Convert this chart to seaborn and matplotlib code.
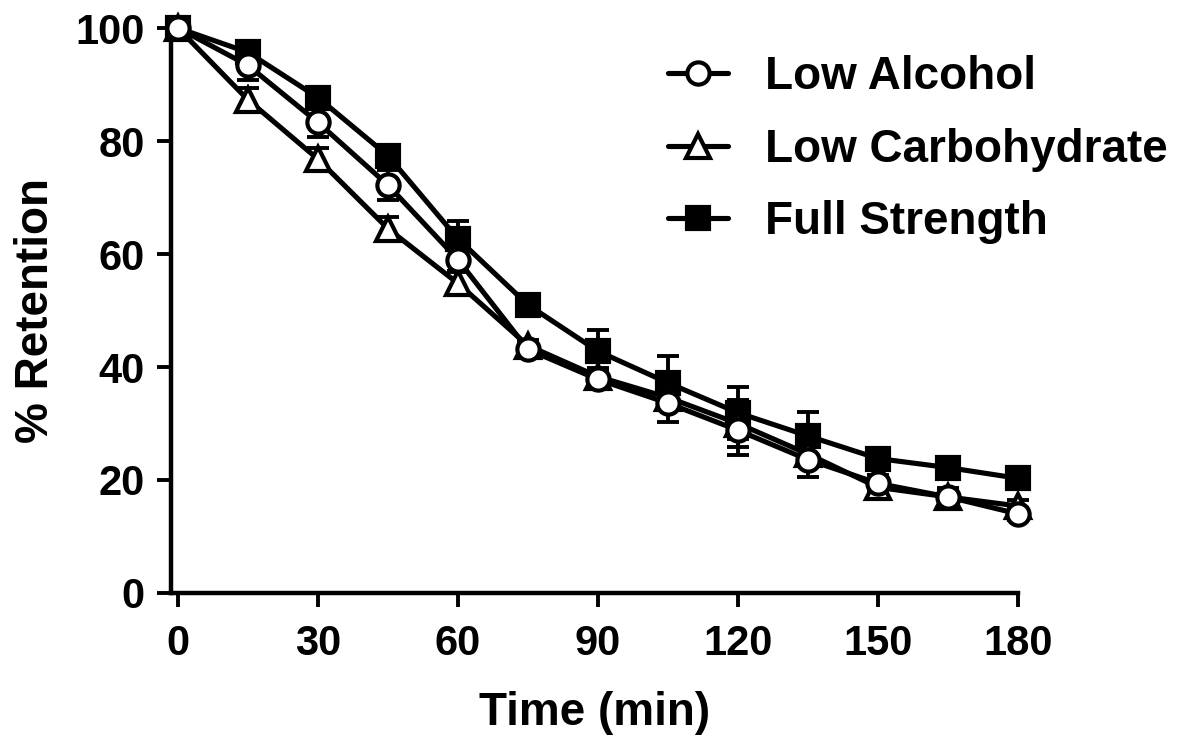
import matplotlib
matplotlib.use("Agg")
import matplotlib.pyplot as plt
import seaborn as sns

# Sampling times (min)
time_min = [0, 15, 30, 45, 60, 75, 90, 105, 120, 135, 150, 165, 180]

# Mean % retention for each beer type
low_alcohol = [100, 93.4, 83.3, 72.2, 59.0, 43.1, 37.8, 33.6, 28.8, 23.6, 19.4, 17.0, 14.0]
low_carb = [100, 87.3, 76.8, 64.5, 54.8, 43.8, 38.3, 34.6, 30.0, 24.6, 18.7, 17.0, 15.4]
full_strength = [100, 95.7, 87.7, 77.4, 62.7, 51.0, 42.8, 37.2, 31.9, 27.8, 23.8, 22.2, 20.3]

# Error bars (SD)
low_alcohol_err = [0, 2.6, 2.5, 2.6, 2.0, 1.0, 1.5, 3.3, 4.4, 3.0, 1.5, 1.5, 1.0]
low_carb_err = [0, 2.0, 2.0, 2.0, 2.0, 1.0, 1.5, 2.0, 4.2, 2.0, 1.0, 1.0, 1.0]
full_strength_err = [0, 1.0, 1.0, 1.5, 3.2, 1.5, 3.8, 4.7, 4.6, 4.2, 1.0, 1.0, 1.0]

series_names = ["Low Alcohol", "Low Carbohydrate", "Full Strength"]

sns.set_style("ticks")
plt.rcParams["font.family"] = ["Liberation Sans", "DejaVu Sans"]
plt.rcParams["font.weight"] = "bold"
for key in ["text.color", "axes.labelcolor", "xtick.color", "ytick.color", "axes.edgecolor"]:
    plt.rcParams[key] = "black"

fig = plt.figure(figsize=(11.87, 7.38), dpi=100)
ax = fig.add_axes([0.144, 0.1965, 0.8576 - 0.144, 0.962 - 0.1965])

lw = 3.7
ms = 15.5
mew = 3.0

styles = {
    "Full Strength": dict(marker="s", markerfacecolor="black", markersize=ms),
    "Low Carbohydrate": dict(marker="^", markerfacecolor="white", markersize=ms + 1.5),
    "Low Alcohol": dict(marker="o", markerfacecolor="white", markersize=ms + 0.5),
}
values = {
    "Low Alcohol": (low_alcohol, low_alcohol_err),
    "Low Carbohydrate": (low_carb, low_carb_err),
    "Full Strength": (full_strength, full_strength_err),
}
draw_order = ["Full Strength", "Low Carbohydrate", "Low Alcohol"]

# Error bars underneath, then lines + markers (circles drawn last)
for i, name in enumerate(draw_order):
    y, e = values[name]
    ax.errorbar(time_min, y, yerr=e, fmt="none", ecolor="black",
                elinewidth=2.8, capsize=8, capthick=2.8, zorder=2 + i, clip_on=False)

for i, name in enumerate(draw_order):
    y, _ = values[name]
    sns.lineplot(x=time_min, y=y, ax=ax, color="black", linewidth=lw,
                 markeredgecolor="black", markeredgewidth=mew,
                 label=name, zorder=5 + i, clip_on=False, **styles[name])

ax.set_xlim(-1.5, 180)
ax.set_ylim(0, 100)
ax.set_xticks([0, 30, 60, 90, 120, 150, 180])
ax.set_yticks([0, 20, 40, 60, 80, 100])

for side in ["top", "right"]:
    ax.spines[side].set_visible(False)
for side in ["left", "bottom"]:
    ax.spines[side].set_linewidth(3.2)
    ax.spines[side].set_color("black")

ax.tick_params(axis="both", length=10, width=2.8, color="black",
               labelsize=30, direction="out")
ax.tick_params(axis="x", pad=12)
ax.tick_params(axis="y", pad=9)
for lab in ax.get_xticklabels() + ax.get_yticklabels():
    lab.set_fontweight("bold")

ax.set_xlabel("Time (min)", fontsize=33, fontweight="bold", labelpad=20)
ax.set_ylabel("% Retention", fontsize=33, fontweight="bold", labelpad=12)

# Legend in the order shown
h, l = ax.get_legend_handles_labels()
order = [l.index(n) for n in series_names]
leg = ax.legend([h[k] for k in order], [l[k] for k in order],
                loc="upper left", bbox_to_anchor=(0.563, 0.925),
                bbox_transform=fig.transFigure, frameon=False,
                fontsize=33, handlelength=1.3, handletextpad=0.8,
                labelspacing=0.62, borderpad=0, borderaxespad=0)
for t in leg.get_texts():
    t.set_fontweight("bold")

fig.savefig("out.png", dpi=100)
